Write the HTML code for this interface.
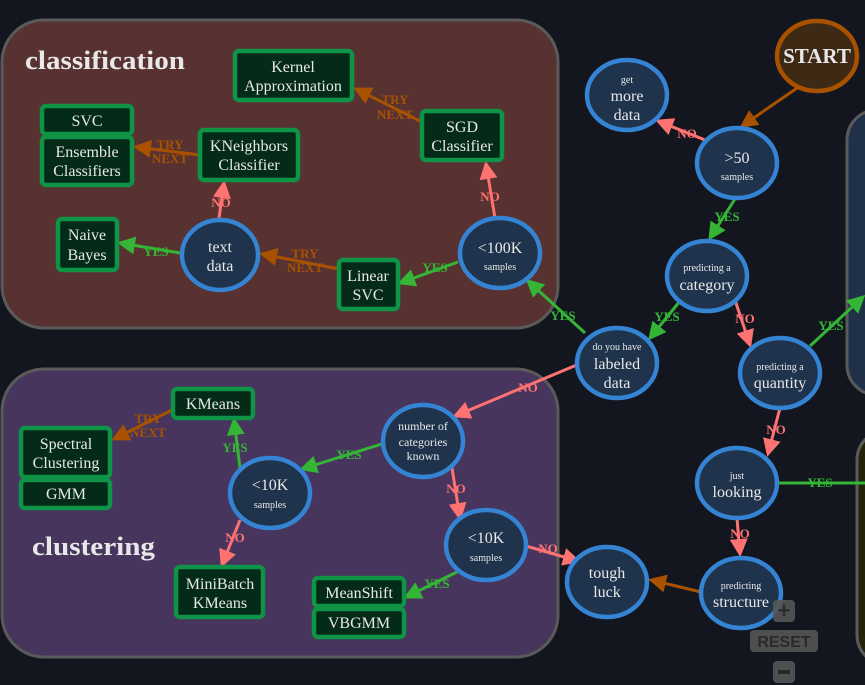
<!DOCTYPE html>
<html><head><meta charset="utf-8"><style>
html,body{margin:0;padding:0;background:#13161e;}
svg{display:block;font-family:"Liberation Serif",serif;}
.e{fill:#1f344c;stroke:#3584d4;stroke-width:4.5;}
.r{fill:#042a18;stroke:#0f9447;stroke-width:4.5;}
.t{fill:#e8e8e8;text-anchor:middle;}
.big{font-size:16px;}
.sm{font-size:10px;}
.lab{font-weight:bold;font-size:13px;text-anchor:middle;}
.red{stroke:#ff7272;stroke-width:3;fill:none;}
.grn{stroke:#35b535;stroke-width:3;fill:none;}
.brn{stroke:#a85200;stroke-width:3;fill:none;}
</style></head><body>
<svg width="865" height="685" viewBox="0 0 865 685" xmlns="http://www.w3.org/2000/svg">
<defs>
<marker id="mr" markerWidth="6" markerHeight="6" refX="5" refY="3" orient="auto" markerUnits="strokeWidth"><path d="M0,0 L6,3 L0,6 z" fill="#ff7272"/></marker>
<marker id="mg" markerWidth="6" markerHeight="6" refX="5" refY="3" orient="auto" markerUnits="strokeWidth"><path d="M0,0 L6,3 L0,6 z" fill="#35b535"/></marker>
<marker id="mb" markerWidth="6" markerHeight="6" refX="5" refY="3" orient="auto" markerUnits="strokeWidth"><path d="M0,0 L6,3 L0,6 z" fill="#a85200"/></marker>
</defs>
<rect width="865" height="685" fill="#13161e"/>
<rect x="2" y="20" width="556" height="308" rx="42" fill="#583231" stroke="#5a5a5a" stroke-width="3"/>
<rect x="2" y="369" width="556" height="288" rx="42" fill="#47355d" stroke="#5a5a5a" stroke-width="3"/>
<rect x="847" y="110" width="60" height="285" rx="30" fill="#1f3048" stroke="#5a5a5a" stroke-width="3"/>
<rect x="857" y="430" width="60" height="235" rx="30" fill="#23230b" stroke="#5a5a5a" stroke-width="3"/>
<text x="25" y="69" textLength="160" lengthAdjust="spacingAndGlyphs" style="font-size:26px;font-weight:bold" fill="#e8e8e8">classification</text>
<text x="32" y="555" textLength="123" lengthAdjust="spacingAndGlyphs" style="font-size:26px;font-weight:bold" fill="#e8e8e8">clustering</text>

<line x1="800" y1="86" x2="742" y2="126" class="brn" marker-end="url(#mb)"/>
<line x1="705" y1="140" x2="658" y2="121" class="red" marker-end="url(#mr)"/>
<text x="687" y="138" class="lab" fill="#ff7272">NO</text>
<line x1="735" y1="199" x2="710" y2="238" class="grn" marker-end="url(#mg)"/>
<text x="727" y="221" class="lab" fill="#35b535">YES</text>
<line x1="680" y1="301" x2="650" y2="338" class="grn" marker-end="url(#mg)"/>
<text x="667" y="321" class="lab" fill="#35b535">YES</text>
<line x1="735" y1="300" x2="750" y2="345" class="red" marker-end="url(#mr)"/>
<text x="745" y="323" class="lab" fill="#ff7272">NO</text>
<line x1="585" y1="333" x2="528" y2="281" class="grn" marker-end="url(#mg)"/>
<text x="563" y="320" class="lab" fill="#35b535">YES</text>
<line x1="579" y1="364" x2="455" y2="416" class="red" marker-end="url(#mr)"/>
<text x="528" y="392" class="lab" fill="#ff7272">NO</text>
<line x1="810" y1="346" x2="863" y2="297" class="grn" marker-end="url(#mg)"/>
<text x="831" y="330" class="lab" fill="#35b535">YES</text>
<line x1="780" y1="408" x2="768" y2="454" class="red" marker-end="url(#mr)"/>
<text x="776" y="434" class="lab" fill="#ff7272">NO</text>
<line x1="777" y1="483" x2="865" y2="483" class="grn"/>
<text x="820" y="487" class="lab" fill="#35b535">YES</text>
<line x1="737" y1="518" x2="740" y2="554" class="red" marker-end="url(#mr)"/>
<text x="740" y="538" class="lab" fill="#ff7272">NO</text>
<line x1="701" y1="592" x2="651" y2="580" class="brn" marker-end="url(#mb)"/>
<line x1="495" y1="218" x2="486" y2="164" class="red" marker-end="url(#mr)"/>
<text x="490" y="201" class="lab" fill="#ff7272">NO</text>
<line x1="458" y1="262" x2="400" y2="283" class="grn" marker-end="url(#mg)"/>
<text x="435" y="272" class="lab" fill="#35b535">YES</text>
<line x1="339" y1="269" x2="262" y2="254" class="brn" marker-end="url(#mb)"/>
<text x="305" y="258" class="lab" fill="#a85200">TRY</text><text x="305" y="272" class="lab" fill="#a85200">NEXT</text>
<line x1="219" y1="218" x2="224" y2="183" class="red" marker-end="url(#mr)"/>
<text x="221" y="207" class="lab" fill="#ff7272">NO</text>
<line x1="180" y1="253" x2="120" y2="243" class="grn" marker-end="url(#mg)"/>
<text x="156" y="256" class="lab" fill="#35b535">YES</text>
<line x1="200" y1="155" x2="136" y2="147" class="brn" marker-end="url(#mb)"/>
<text x="170" y="149" class="lab" fill="#a85200">TRY</text><text x="170" y="163" class="lab" fill="#a85200">NEXT</text>
<line x1="422" y1="122" x2="356" y2="89" class="brn" marker-end="url(#mb)"/>
<text x="395" y="104" class="lab" fill="#a85200">TRY</text><text x="395" y="119" class="lab" fill="#a85200">NEXT</text>
<line x1="385" y1="443" x2="302" y2="469" class="grn" marker-end="url(#mg)"/>
<text x="349" y="459" class="lab" fill="#35b535">YES</text>
<line x1="452" y1="468" x2="460" y2="518" class="red" marker-end="url(#mr)"/>
<text x="456" y="493" class="lab" fill="#ff7272">NO</text>
<line x1="240" y1="468" x2="234" y2="420" class="grn" marker-end="url(#mg)"/>
<text x="235" y="452" class="lab" fill="#35b535">YES</text>
<line x1="172" y1="410" x2="114" y2="439" class="brn" marker-end="url(#mb)"/>
<text x="148" y="423" class="lab" fill="#a85200">TRY</text><text x="148" y="437" class="lab" fill="#a85200">NEXT</text>
<line x1="240" y1="520" x2="222" y2="565" class="red" marker-end="url(#mr)"/>
<text x="235" y="542" class="lab" fill="#ff7272">NO</text>
<line x1="457" y1="572" x2="406" y2="597" class="grn" marker-end="url(#mg)"/>
<text x="437" y="588" class="lab" fill="#35b535">YES</text>
<line x1="526" y1="546" x2="578" y2="561" class="red" marker-end="url(#mr)"/>
<text x="548" y="553" class="lab" fill="#ff7272">NO</text>

<ellipse cx="817" cy="56" rx="40" ry="35" fill="#3d2914" stroke="#a85200" stroke-width="4.5"/>
<text x="817" y="63" class="t" style="font-size:21px;font-weight:bold">START</text>

<ellipse cx="627" cy="95" rx="40" ry="35" class="e"/>
<text x="627" y="83" class="t sm">get</text><text x="627" y="101" class="t big">more</text><text x="627" y="120" class="t big">data</text>
<ellipse cx="737" cy="163" rx="40" ry="35" class="e"/>
<text x="737" y="163" class="t big">&gt;50</text><text x="737" y="180" class="t sm">samples</text>
<ellipse cx="707" cy="276" rx="40" ry="35" class="e"/>
<text x="707" y="271" class="t sm">predicting a</text><text x="707" y="290" class="t big">category</text>
<ellipse cx="617" cy="363" rx="40" ry="35" class="e"/>
<text x="617" y="350" class="t sm">do you have</text><text x="617" y="369" class="t big">labeled</text><text x="617" y="388" class="t big">data</text>
<ellipse cx="780" cy="373" rx="40" ry="35" class="e"/>
<text x="780" y="370" class="t sm">predicting a</text><text x="780" y="388" class="t big">quantity</text>
<ellipse cx="737" cy="483" rx="40" ry="35" class="e"/>
<text x="737" y="479" class="t sm">just</text><text x="737" y="497" class="t big">looking</text>
<ellipse cx="741" cy="593" rx="40" ry="35" class="e"/>
<text x="741" y="589" class="t sm">predicting</text><text x="741" y="607" class="t big">structure</text>
<ellipse cx="607" cy="582" rx="40" ry="35" class="e"/>
<text x="607" y="578" class="t big">tough</text><text x="607" y="597" class="t big">luck</text>
<ellipse cx="500" cy="253" rx="40" ry="35" class="e"/>
<text x="500" y="253" class="t big">&lt;100K</text><text x="500" y="270" class="t sm">samples</text>
<ellipse cx="220" cy="255" rx="38" ry="35" class="e"/>
<text x="220" y="252" class="t big">text</text><text x="220" y="271" class="t big">data</text>
<ellipse cx="423" cy="441" rx="40" ry="36" class="e"/>
<text x="423" y="430" class="t" style="font-size:12px">number of</text><text x="423" y="446" class="t" style="font-size:12px">categories</text><text x="423" y="460" class="t" style="font-size:12px">known</text>
<ellipse cx="270" cy="493" rx="40" ry="35" class="e"/>
<text x="270" y="490" class="t big">&lt;10K</text><text x="270" y="508" class="t sm">samples</text>
<ellipse cx="486" cy="545" rx="40" ry="35" class="e"/>
<text x="486" y="543" class="t big">&lt;10K</text><text x="486" y="561" class="t sm">samples</text>

<rect x="235" y="51" width="117" height="49" rx="4" class="r"/>
<text x="293" y="72" class="t big">Kernel</text><text x="293" y="91" class="t big">Approximation</text>
<rect x="422" y="111" width="80" height="49" rx="4" class="r"/>
<text x="462" y="132" class="t big">SGD</text><text x="462" y="151" class="t big">Classifier</text>
<rect x="42" y="106" width="90" height="28" rx="4" class="r"/>
<text x="87" y="126" class="t big">SVC</text>
<rect x="42" y="137" width="90" height="48" rx="4" class="r"/>
<text x="87" y="157" class="t big">Ensemble</text><text x="87" y="176" class="t big">Classifiers</text>
<rect x="200" y="130" width="98" height="50" rx="4" class="r"/>
<text x="249" y="151" class="t big">KNeighbors</text><text x="249" y="170" class="t big">Classifier</text>
<rect x="58" y="219" width="59" height="51" rx="4" class="r"/>
<text x="87" y="240" class="t big">Naive</text><text x="87" y="260" class="t big">Bayes</text>
<rect x="339" y="260" width="59" height="49" rx="4" class="r"/>
<text x="368" y="281" class="t big">Linear</text><text x="368" y="300" class="t big">SVC</text>
<rect x="173" y="389" width="80" height="29" rx="4" class="r"/>
<text x="213" y="409" class="t big">KMeans</text>
<rect x="21" y="428" width="89" height="49" rx="4" class="r"/>
<text x="66" y="449" class="t big">Spectral</text><text x="66" y="468" class="t big">Clustering</text>
<rect x="21" y="480" width="89" height="28" rx="4" class="r"/>
<text x="66" y="499" class="t big">GMM</text>
<rect x="176" y="567" width="87" height="50" rx="4" class="r"/>
<text x="220" y="589" class="t big">MiniBatch</text><text x="220" y="608" class="t big">KMeans</text>
<rect x="314" y="578" width="90" height="28" rx="4" class="r"/>
<text x="359" y="598" class="t big">MeanShift</text>
<rect x="314" y="609" width="90" height="28" rx="4" class="r"/>
<text x="359" y="628" class="t big">VBGMM</text>

<rect x="773" y="600" width="22" height="22" rx="4" fill="#555" opacity="0.9"/>
<text x="784" y="618" style="font-family:'Liberation Sans',sans-serif;font-size:22px;font-weight:bold;text-anchor:middle" fill="#2a2a2a">+</text>
<rect x="750" y="630" width="68" height="22" rx="4" fill="#555" opacity="0.9"/>
<text x="784" y="647" style="font-family:'Liberation Sans',sans-serif;font-size:16px;font-weight:bold;text-anchor:middle" fill="#2a2a2a">RESET</text>
<rect x="773" y="661" width="22" height="22" rx="4" fill="#555" opacity="0.9"/>
<rect x="778" y="670" width="12" height="4" fill="#2a2a2a"/>
</svg>
</body></html>
